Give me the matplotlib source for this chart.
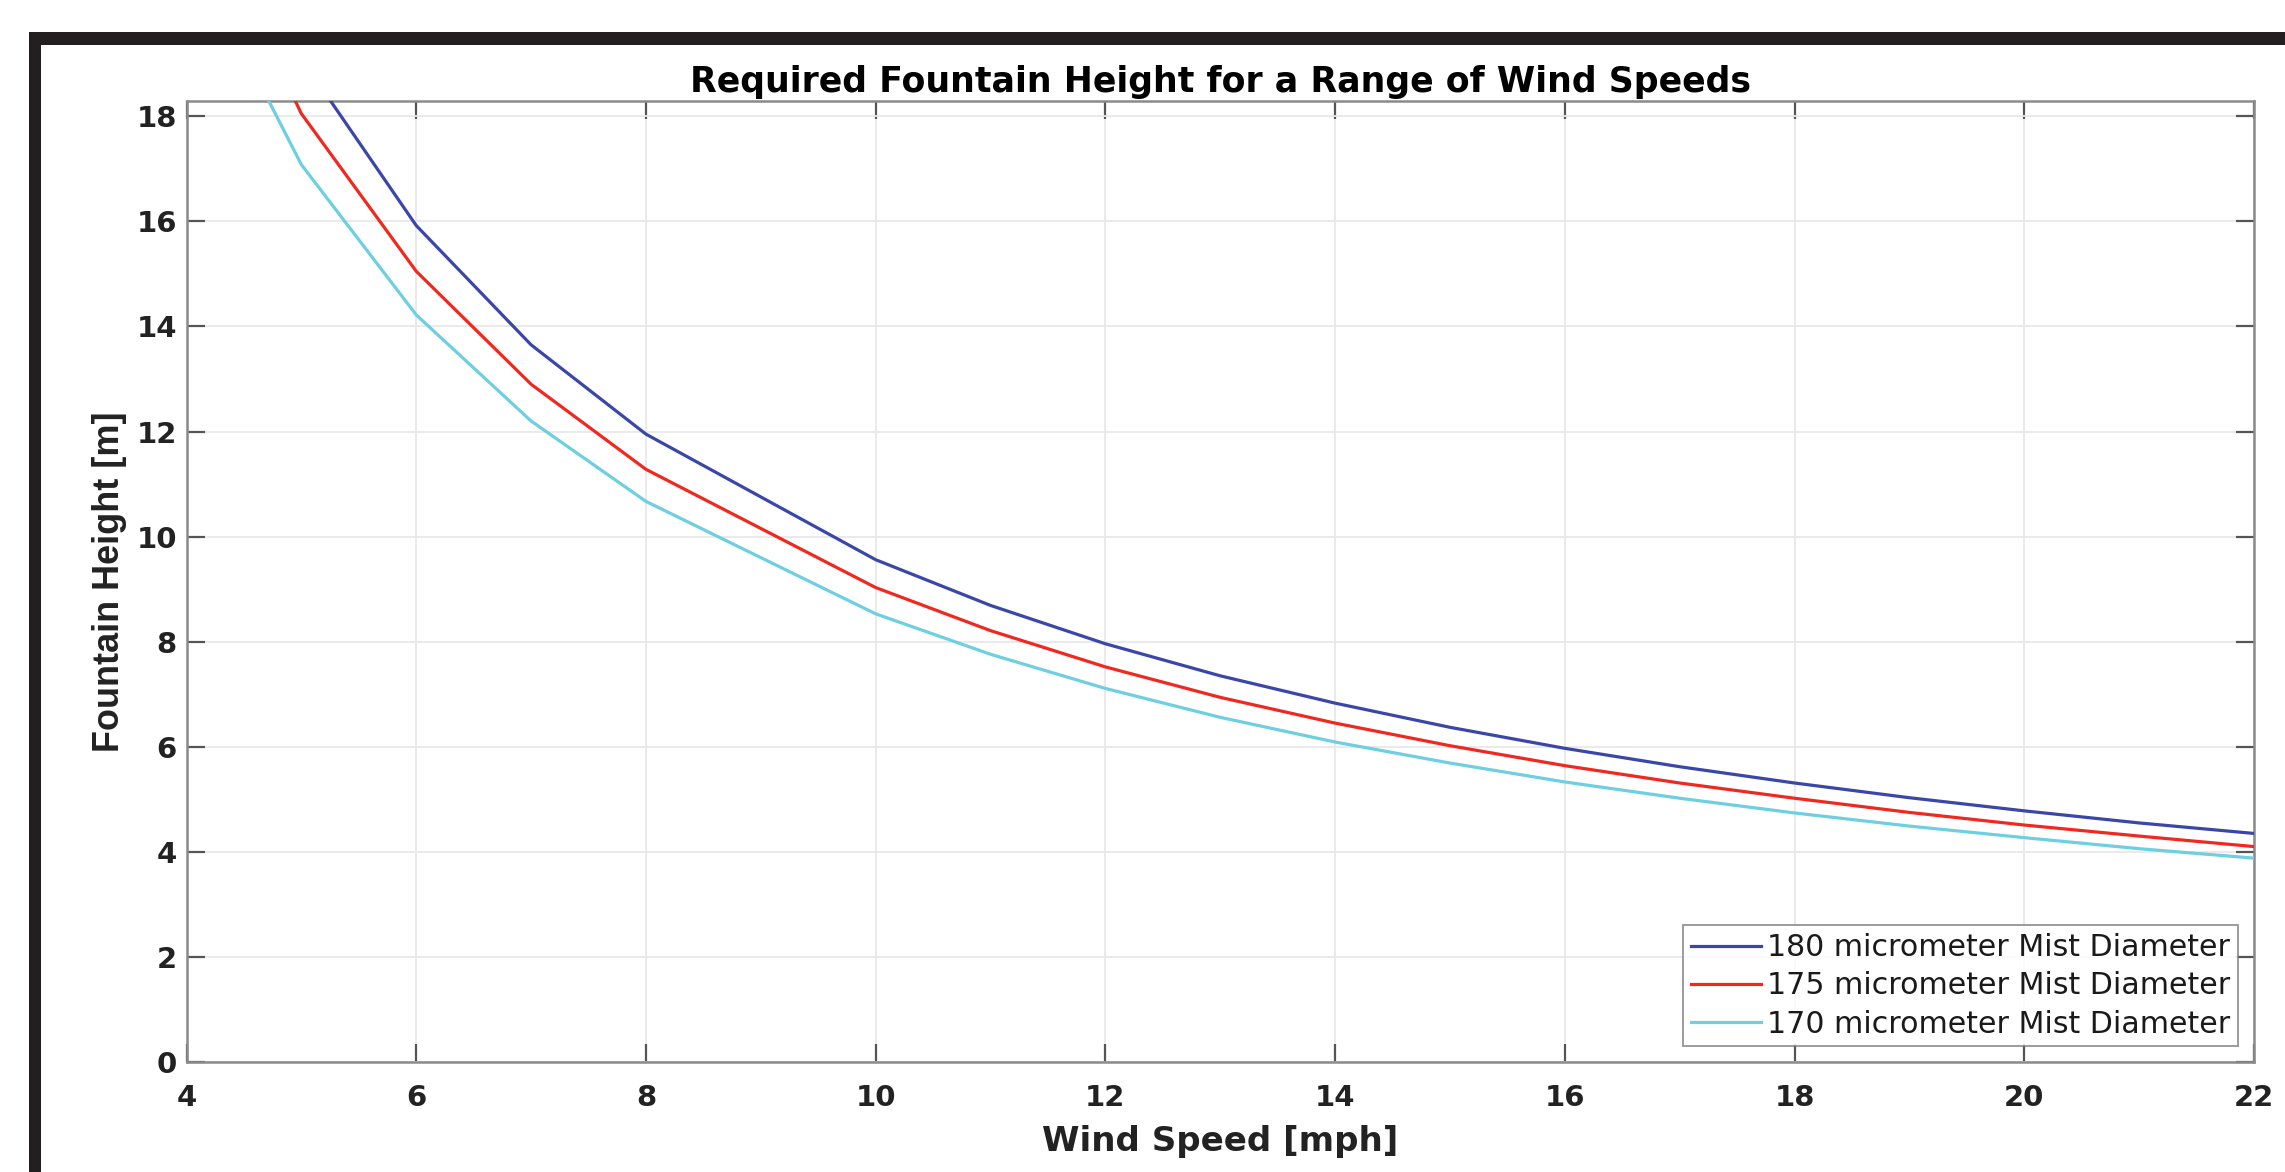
import matplotlib
matplotlib.use("Agg")
import matplotlib.pyplot as plt
from matplotlib.patches import Rectangle

# ---- data ----
wind_speed = [4, 5, 6, 7, 8, 10, 11, 12, 13, 14, 15, 16, 17, 18, 19, 20, 21, 22]
height_180 = [23.9, 19.1, 15.92, 13.65, 11.95, 9.56, 8.69, 7.96, 7.35, 6.83, 6.37,
              5.97, 5.62, 5.31, 5.03, 4.78, 4.55, 4.35]
height_175 = [22.6, 18.05, 15.05, 12.90, 11.28, 9.03, 8.21, 7.52, 6.94, 6.45, 6.02,
              5.64, 5.31, 5.02, 4.75, 4.51, 4.30, 4.10]
height_170 = [21.35, 17.08, 14.22, 12.20, 10.67, 8.53, 7.76, 7.11, 6.56, 6.09, 5.69,
              5.33, 5.02, 4.74, 4.49, 4.27, 4.06, 3.88]
labels = ["180 micrometer Mist Diameter",
          "175 micrometer Mist Diameter",
          "170 micrometer Mist Diameter"]
x_ticks = [4, 6, 8, 10, 12, 14, 16, 18, 20, 22]
y_ticks = [0, 2, 4, 6, 8, 10, 12, 14, 16, 18]

plt.rcParams['font.family'] = ['DejaVu Sans']

W, H = 2285, 1172
fig = plt.figure(figsize=(W / 100, H / 100), dpi=100)
fig.patch.set_facecolor('white')

# black screenshot frame (top and left)
fig.patches.append(Rectangle((29 / W, 1 - 45 / H), 1 - 29 / W, 13 / H,
                             transform=fig.transFigure, facecolor='#231f20',
                             edgecolor='none', zorder=0))
fig.patches.append(Rectangle((29 / W, 0), 12 / W, 1 - 32 / H,
                             transform=fig.transFigure, facecolor='#231f20',
                             edgecolor='none', zorder=0))

left, right, top, bottom = 186.5, 2254, 100.5, 1062
ax = fig.add_axes([left / W, 1 - bottom / H, (right - left) / W, (bottom - top) / H])

colors = ['#3a46a8', '#f0281f', '#6dcfe0']
for ys, c, lab in zip([height_180, height_175, height_170], colors, labels):
    ax.plot(wind_speed, ys, color=c, lw=2.3, label=lab, zorder=3)

ax.set_xlim(4, 22)
ax.set_ylim(0, 18.3)
ax.set_xticks(x_ticks)
ax.set_yticks(y_ticks)
ax.grid(True, color='#e8e8e8', lw=1.3, zorder=0)
for sp in ax.spines.values():
    sp.set_color('#8a8a8a')
    sp.set_linewidth(1.8)
ax.tick_params(direction='in', length=13, width=1.6, color='#555555',
               top=True, right=True, labelsize=21, labelcolor='#222222')
ax.tick_params(axis='x', pad=15.5)
ax.tick_params(axis='y', pad=7)
for t in ax.get_xticklabels() + ax.get_yticklabels():
    t.set_fontweight('bold')

ax.set_title("Required Fountain Height for a Range of Wind Speeds",
             fontsize=25, fontweight='bold', pad=6, color='black')
ax.set_xlabel("Wind Speed [mph]", fontsize=24.5, fontweight='bold', labelpad=9.5,
              color='#222222')
ax.set_ylabel("Fountain Height [m]", fontsize=25.9, fontweight='bold', labelpad=6.5,
              color='#222222', family=['Liberation Sans', 'DejaVu Sans'])

leg = ax.legend(loc='lower right', fontsize=21.6, frameon=True, fancybox=False,
                edgecolor='#7a7a7a', handlelength=2.33, handletextpad=0.22,
                labelspacing=0.31, borderaxespad=0.52, borderpad=0.26)
leg.get_frame().set_linewidth(1.3)
for t in leg.get_texts():
    t.set_color('#1a1a1a')

fig.savefig("out.png", dpi=100)
